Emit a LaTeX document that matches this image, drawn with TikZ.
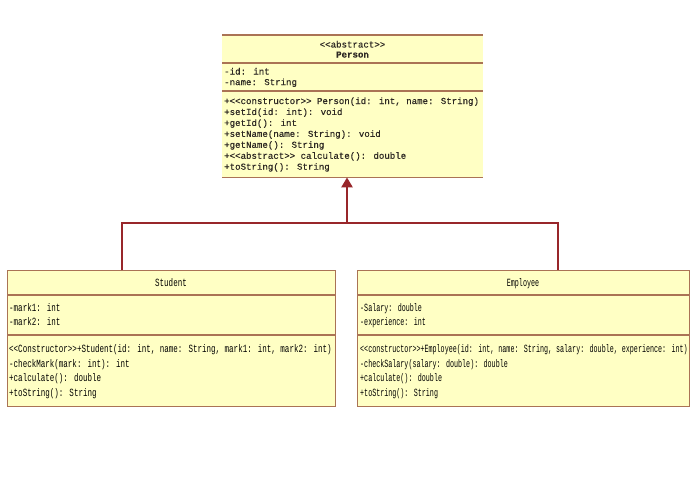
\documentclass[tikz,border=0pt]{standalone}
\usepackage{fontspec}
\usetikzlibrary{arrows.meta}
\newfontfamily\pfont[FakeBold=0.3]{Liberation Mono}
\newfontfamily\sfontA[FakeStretch=0.685]{Liberation Mono}
\newfontfamily\efontA[FakeStretch=0.61]{Liberation Mono}
\definecolor{umlfill}{RGB}{255,255,196}
\definecolor{umlline}{RGB}{170,115,85}
\definecolor{conn}{RGB}{152,38,42}
\definecolor{ptxt}{RGB}{45,40,35}
\tikzset{
  classbox/.style={fill=umlfill, inner sep=0, anchor=north west},
  sep/.style={draw=umlline, line width=1.2pt},
  ptext/.style={font=\pfont\fontsize{9.1}{10}\selectfont, text=ptxt, inner sep=0, anchor=base west},
  ptitle/.style={font=\pfont\fontsize{9.1}{10}\selectfont, text=ptxt, inner sep=0, anchor=base},
  stext/.style={font=\sfontA\fontsize{11}{12}\selectfont, inner sep=0, anchor=base west},
  etext/.style={font=\efontA\fontsize{11}{12}\selectfont, inner sep=0, anchor=base west},
  gen/.style={draw=conn, line width=2.8pt},
  genarrow/.style={draw=conn, line width=2.8pt, -{Triangle[width=11pt,length=10pt]}},
}
\begin{document}
\begin{tikzpicture}[x=1pt,y=-1pt]
\useasboundingbox (0,0) rectangle (700,493);
\fill[white] (0,0) rectangle (700,493);
% Person
\node[classbox, minimum width=261pt, minimum height=142pt] (person) at (222,35) {};
\draw[sep] (person.north west) -- (person.north east);
\draw[sep] ([yshift=-28pt]person.north west) -- ([yshift=-28pt]person.north east);
\draw[sep] ([yshift=-56pt]person.north west) -- ([yshift=-56pt]person.north east);
\draw[sep] (person.south west) -- (person.south east);
\node[ptitle] (pst) at (352.5,47.5) {<{}<abstract>{}>};
\node[ptitle] (pname) at (352.5,57.5) {\bfseries Person};
\foreach \t [count=\i] in {-id: int, -name: String}
  \node[ptext] (pa\i) at (224,{74.5+(\i-1)*10.6}) {\t};
\foreach \t [count=\i] in {{+<{}<constructor>{}> Person(id: int, name: String)},
  {+setId(id: int): void}, {+getId(): int}, {+setName(name: String): void},
  {+getName(): String}, {+<{}<abstract>{}> calculate(): double}, {+toString(): String}}
  \node[ptext] (pm\i) at (224,{104+(\i-1)*10.95}) {\t};
% Student
\node[classbox, draw=umlline, line width=1.2pt, minimum width=328pt, minimum height=136pt] (student) at (7,270) {};
\draw[sep] ([yshift=-25pt]student.north west) -- ([yshift=-25pt]student.north east);
\draw[sep] ([yshift=-65pt]student.north west) -- ([yshift=-65pt]student.north east);
\node[stext, anchor=base] (sname) at (171,286.5) {Student};
\foreach \t [count=\i] in {-mark1: int, -mark2: int}
  \node[stext] (sa\i) at (9,{311.5+(\i-1)*14.3}) {\t};
\foreach \t [count=\i] in {{<{}<Constructor>{}>+Student(id: int, name: String, mark1: int, mark2: int)},
  {-checkMark(mark: int): int}, {+calculate(): double}, {+toString(): String}}
  \node[stext] (sm\i) at (9,{352.5+(\i-1)*14.6}) {\t};
% Employee
\node[classbox, draw=umlline, line width=1.2pt, minimum width=332pt, minimum height=136pt] (employee) at (357,270) {};
\draw[sep] ([yshift=-25pt]employee.north west) -- ([yshift=-25pt]employee.north east);
\draw[sep] ([yshift=-65pt]employee.north west) -- ([yshift=-65pt]employee.north east);
\node[etext, anchor=base] (ename) at (523,286.5) {Employee};
\foreach \t [count=\i] in {-Salary: double, -experience: int}
  \node[etext] (ea\i) at (360,{311.5+(\i-1)*14.3}) {\t};
\foreach \t [count=\i] in {{<{}<constructor>{}>+Employee(id: int, name: String, salary: double, experience: int)},
  {-checkSalary(salary: double): double}, {+calculate(): double}, {+toString(): String}}
  \node[etext] (em\i) at (360,{352.5+(\i-1)*14.6}) {\t};
% Generalization
\coordinate (j) at (347,223);
\coordinate (jl) at (122,223);
\coordinate (jr) at (558,223);
\draw[gen] (jl |- student.north) -- (jl) -- (jr) -- (jr |- employee.north);
\draw[genarrow] (j) -- (j |- person.south);
\end{tikzpicture}
\end{document}
